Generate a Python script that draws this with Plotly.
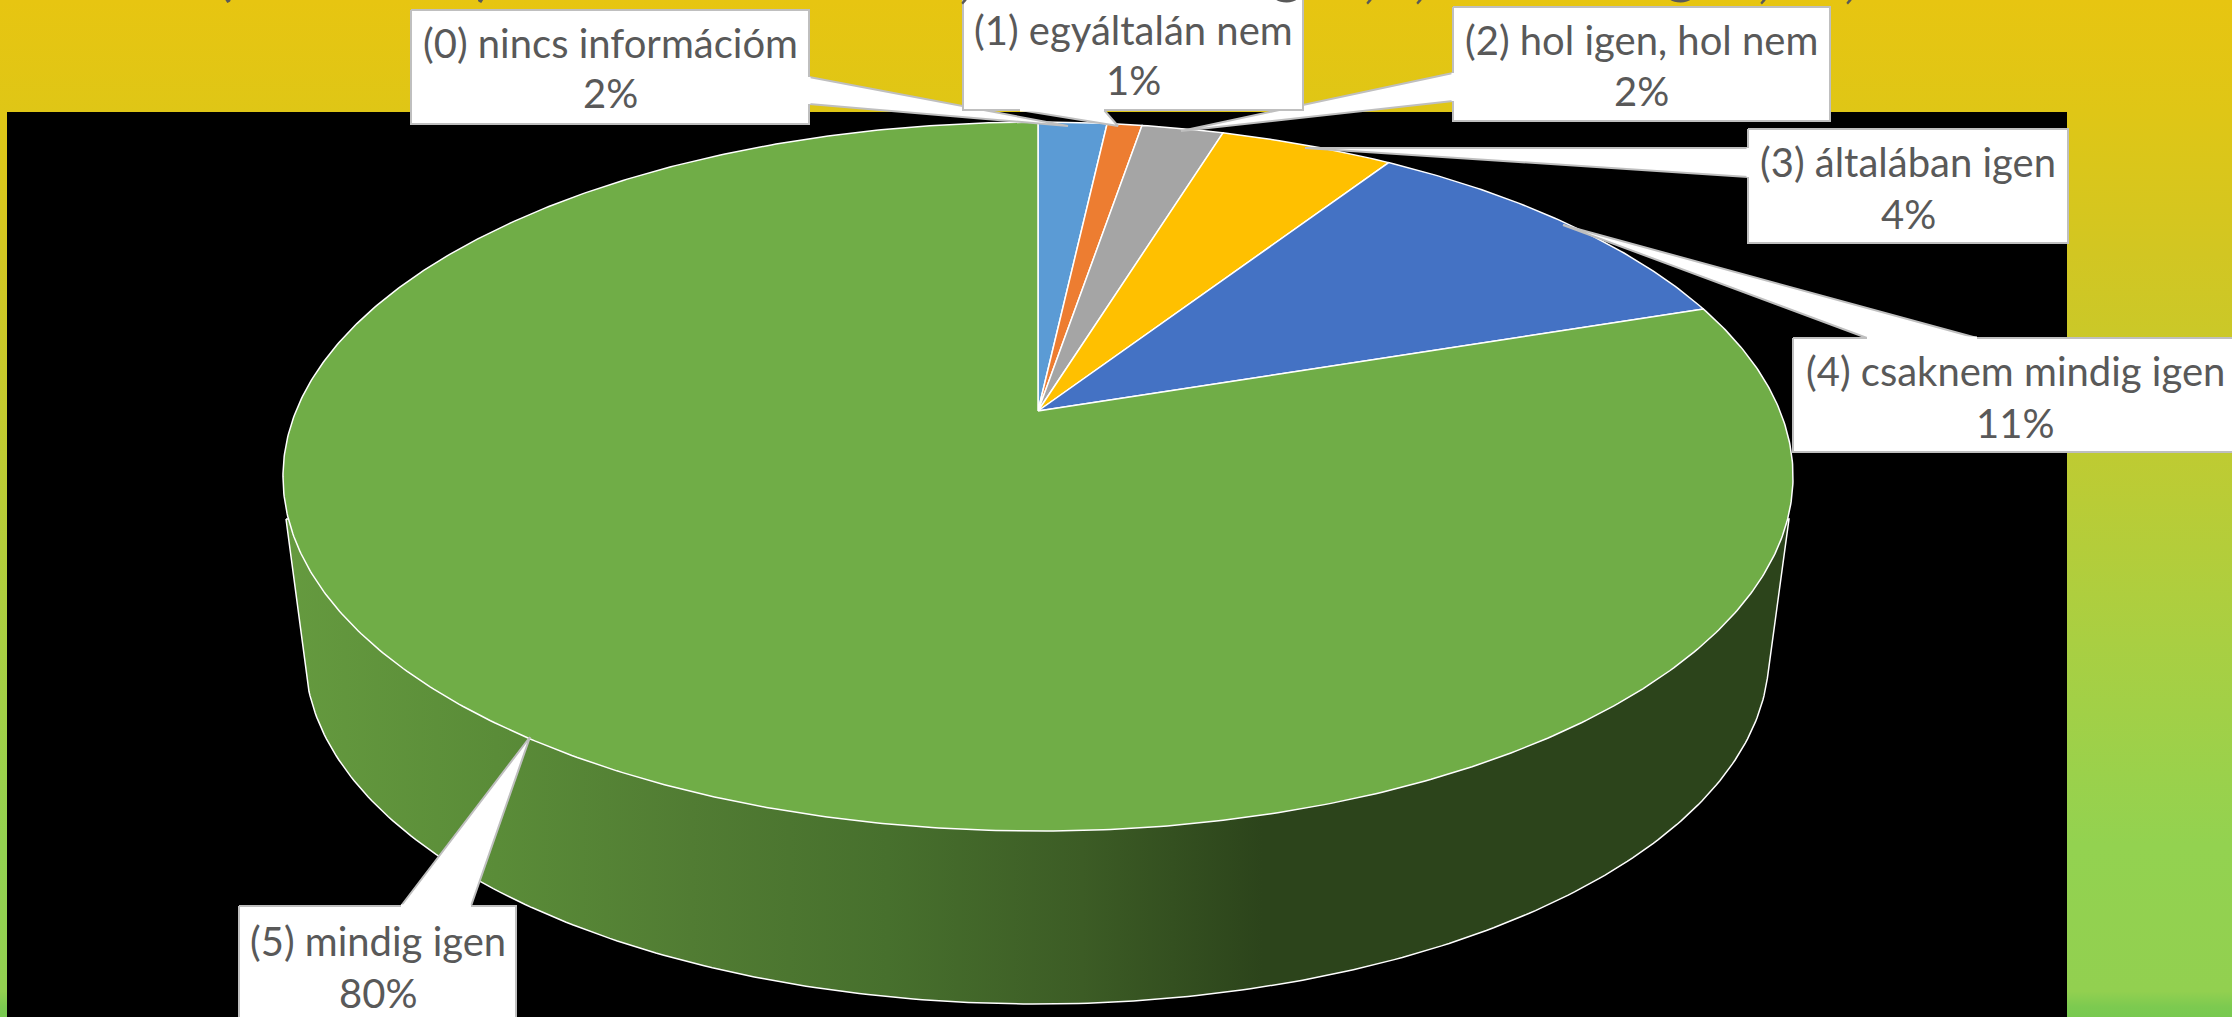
import numpy as np
import plotly.graph_objects as go

categories = ["(0) nincs információm", "(1) egyáltalán nem", "(2) hol igen, hol nem",
              "(3) általában igen", "(4) csaknem mindig igen", "(5) mindig igen"]
values = [1.76, 0.89, 2.09, 4.45, 10.71, 80.1]
value_labels = ["2%", "1%", "2%", "4%", "11%", "80%"]
slice_colors = ["#5B9BD5", "#ED7D31", "#A5A5A5", "#FFC000", "#4472C4", "#70AD47"]

W, H = 2232, 1017
CX, CY = 1038, 411          # apex of the pie
A, B, K = 742, 342.4, 0.185 # perspective projection of the disc


def proj(frac):
    th = 2 * np.pi * np.asarray(frac)
    w = 1 + K * np.cos(th)
    return CX + A * np.sin(th) / w, CY - B * np.cos(th) / w


fig = go.Figure()

# page background
bg_scale = [[0, "#E7C511"], [0.11, "#DFC616"], [0.25, "#D2C622"], [0.40, "#C4CA2E"],
            [0.63, "#A9CF42"], [0.83, "#93D250"], [0.975, "#92D050"], [0.99, "#7CCA50"], [1, "#78C950"]]
fig.add_trace(go.Scatter(x=[0, W, W, 0, 0], y=[0, 0, H, H, 0], mode="lines", fill="toself",
                         line=dict(width=0),
                         fillgradient=dict(type="vertical", colorscale=bg_scale, start=0, stop=H),
                         hoverinfo="skip", showlegend=False))
fig.add_trace(go.Scatter(x=[7, 2067, 2067, 7, 7], y=[112, 112, H + 5, H + 5, 112], mode="lines",
                         fill="toself", fillcolor="#000000", line=dict(width=0),
                         hoverinfo="skip", showlegend=False))

# side wall
tt = np.radians(np.linspace(176.2, 3.8, 240))
lx, ly = 1037 + 732 * np.cos(tt), 655 + 349 * np.sin(tt)
sx = np.r_[286, lx, 1789, 286]
sy = np.r_[519, ly, 519, 519]
side_scale = [[0, "#659A3F"], [0.14, "#5A8C38"], [0.27, "#517C33"], [0.40, "#47702D"],
              [0.53, "#3C5C25"], [0.65, "#2C441B"], [1, "#2C441B"]]
fig.add_trace(go.Scatter(x=sx, y=sy, mode="lines", fill="toself", line=dict(color="#FFFFFF", width=1.5),
                         fillgradient=dict(type="horizontal", colorscale=side_scale, start=286, stop=1789),
                         hoverinfo="skip", showlegend=False))

# top face: one wedge per value
cum = np.r_[0, np.cumsum(values)] / np.sum(values)
for i, (name, col) in enumerate(zip(categories, slice_colors)):
    f = np.linspace(cum[i], cum[i + 1], max(6, int(values[i] * 8)))
    px, py = proj(f)
    fig.add_trace(go.Scatter(x=np.r_[CX, px, CX], y=np.r_[CY, py, CY], mode="lines", fill="toself",
                             fillcolor=col, line=dict(color="#FFFFFF", width=1.5), name=name,
                             hoverinfo="name", showlegend=False))

# callouts: box corners and pointers
boxes = [(411, 10, 809, 124), (963, -6, 1303, 110), (1453, 7, 1830, 121),
         (1748, 129, 2068, 243), (1793, 338, 2240, 452), (239, 906, 516, 1030)]
pointers = [[(809, 77), (1068, 126), (809, 104)],
            [(1020, 110), (1118, 126), (1104, 110)],
            [(1453, 73), (1181, 131), (1453, 101)],
            [(1748, 148), (1305, 148), (1748, 177)],
            [(1867, 338), (1563, 225), (1977, 338)],
            [(401, 906), (530, 737), (471, 906)]]
centers = [(610, 43, 93), (1133, 30, 80), (1641, 40, 91), (1908, 162, 214), (2015, 371, 423), (378, 941, 993)]
order = [0, 2, 3, 4, 5, 1]
for i in order:
    x0, y0, x1, y1 = boxes[i]
    fig.add_trace(go.Scatter(x=[p[0] for p in pointers[i]], y=[p[1] for p in pointers[i]], mode="lines",
                             fill="toself", fillcolor="#FFFFFF", line=dict(color="#BFBFBF", width=2),
                             hoverinfo="skip", showlegend=False))
    fig.add_trace(go.Scatter(x=[x0, x1, x1, x0, x0], y=[y0, y0, y1, y1, y0], mode="lines",
                             fill="toself", fillcolor="#FFFFFF", line=dict(color="#BFBFBF", width=2),
                             hoverinfo="skip", showlegend=False))
    # white stroke hides the box edge where the pointer joins it
    (ax, ay), _, (bx, by) = pointers[i]
    fig.add_trace(go.Scatter(x=[ax, bx], y=[ay, by], mode="lines", line=dict(color="#FFFFFF", width=3),
                             hoverinfo="skip", showlegend=False))

FONT = "Lato"
TXT = "#595959"
for i in range(6):
    cx, y1, y2 = centers[i]
    fig.add_annotation(x=cx, y=y1, text=categories[i], showarrow=False, xanchor="center", yanchor="middle",
                       font=dict(family=FONT, size=40, color=TXT))
    fig.add_annotation(x=cx, y=y2, text=value_labels[i], showarrow=False, xanchor="center", yanchor="middle",
                       font=dict(family=FONT, size=40, color=TXT))

# the clipped heading: only the lowest strokes of its glyphs show at the top edge
title_glyphs = [("(", 224, 9), (")", 484, 9), (",", 965, 11), ("g", 1287, 6), (",", 1370, 11), (",", 1420, 11),
                ("g", 1681, 6), (",", 1764, 11), (",", 1850, 11)]
for ch, gx, gy in title_glyphs:
    fig.add_annotation(x=gx, y=gy, text=ch, showarrow=False, xanchor="center", yanchor="bottom",
                       font=dict(family=FONT, size=62, color=TXT))

fig.update_layout(width=W, height=H, margin=dict(l=0, r=0, t=0, b=0), paper_bgcolor="#000000",
                  plot_bgcolor="#000000", showlegend=False,
                  xaxis=dict(range=[0, W], visible=False, fixedrange=True),
                  yaxis=dict(range=[H, 0], visible=False, fixedrange=True))
fig.write_html("out.html", config=dict(displayModeBar=False),
               post_script="document.body.style.margin='0';document.body.style.overflow='hidden';")
